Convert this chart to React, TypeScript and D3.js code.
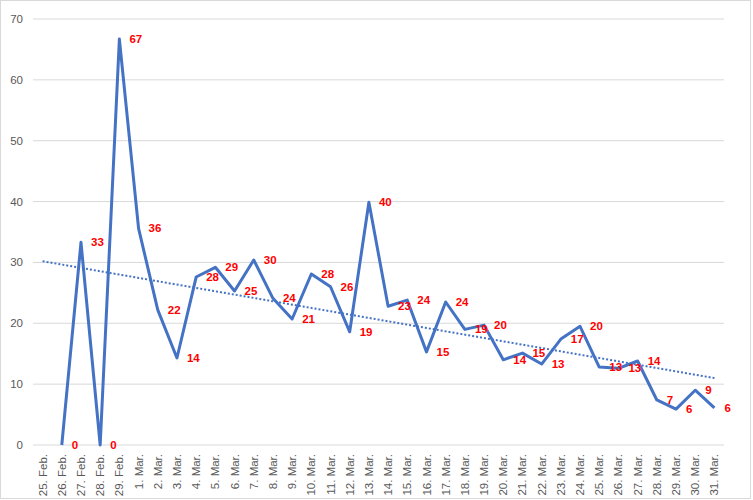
import { line, scaleBand, scaleLinear } from "d3";

const width = 753;
const height = 500;

const days = [
  "25. Feb.", "26. Feb.", "27. Feb.", "28. Feb.", "29. Feb.",
  "1. Mar.", "2. Mar.", "3. Mar.", "4. Mar.", "5. Mar.", "6. Mar.", "7. Mar.",
  "8. Mar.", "9. Mar.", "10. Mar.", "11. Mar.", "12. Mar.", "13. Mar.", "14. Mar.",
  "15. Mar.", "16. Mar.", "17. Mar.", "18. Mar.", "19. Mar.", "20. Mar.", "21. Mar.",
  "22. Mar.", "23. Mar.", "24. Mar.", "25. Mar.", "26. Mar.", "27. Mar.", "28. Mar.",
  "29. Mar.", "30. Mar.", "31. Mar.",
];

// plotted values (null = no value)
const values: (number | null)[] = [
  null, 0, 33.3, 0, 66.7,
  35.6, 22.2, 14.3, 27.6, 29.2, 25.3, 30.4,
  24.1, 20.7, 28.1, 26.0, 18.6, 39.9, 22.8,
  23.8, 15.3, 23.5, 19.0, 19.7, 14.0, 15.1,
  13.3, 17.4, 19.5, 12.8, 12.6, 13.8, 7.4,
  5.9, 9.0, 6.1,
];

// linear trend, value at first and last day
const trend = [30.2, 11.0];

const yTicks = [0, 10, 20, 30, 40, 50, 60, 70];

const margin = { top: 19, right: 29, bottom: 55, left: 33 };

export default function App() {
  const x = scaleBand()
    .domain(days)
    .range([margin.left, width - margin.right]);
  const y = scaleLinear()
    .domain([0, 70])
    .range([height - margin.bottom, margin.top]);

  const cx = (i: number) => (x(days[i]) ?? 0) + x.bandwidth() / 2;

  const path = line<number | null>()
    .defined((d) => d !== null)
    .x((_, i) => cx(i))
    .y((d) => y(d as number))(values);

  const last = days.length - 1;
  const font = "'Liberation Sans', Arial, sans-serif";

  return (
    <svg
      width={width}
      height={height}
      style={{ position: "absolute", left: 0, top: 0, background: "#fff" }}
    >
      <rect x={0.5} y={0.5} width={750} height={498} fill="#fff" stroke="#d9d9d9" />
      {yTicks.map((t) => (
        <g key={t}>
          <line
            x1={margin.left}
            x2={width - margin.right}
            y1={y(t)}
            y2={y(t)}
            stroke="#d9d9d9"
          />
          <text
            x={23}
            y={y(t)}
            dy="0.35em"
            textAnchor="end"
            fontSize={11.5}
            fill="#595959"
            fontFamily={font}
          >
            {t}
          </text>
        </g>
      ))}
      {days.map((d, i) => (
        <text
          key={d}
          transform={`translate(${cx(i)},${y(0) + 9}) rotate(-90)`}
          dy="0.35em"
          textAnchor="end"
          fontSize={11.5}
          fill="#595959"
          fontFamily={font}
        >
          {d}
        </text>
      ))}
      <path
        d={path ?? ""}
        fill="none"
        stroke="#4472c4"
        strokeWidth={3}
        strokeLinejoin="round"
      />
      <line
        x1={cx(0)}
        y1={y(trend[0])}
        x2={cx(last)}
        y2={y(trend[1])}
        stroke="#4472c4"
        strokeWidth={2}
        strokeDasharray="2 2"
      />
      {values.map((v, i) =>
        v === null ? null : (
          <text
            key={i}
            x={cx(i) + 10}
            y={y(v)}
            dy="0.35em"
            fontSize={11.5}
            fontWeight="bold"
            fill="#ff0000"
            fontFamily={font}
          >
            {Math.round(v)}
          </text>
        )
      )}
    </svg>
  );
}
